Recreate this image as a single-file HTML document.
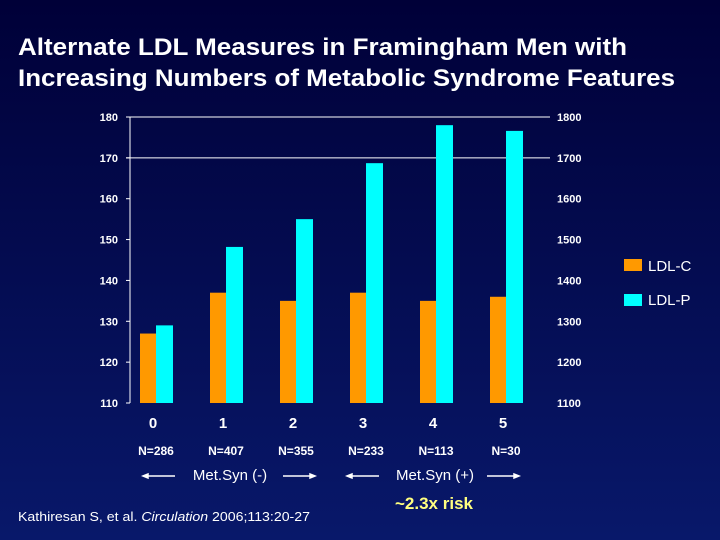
<!DOCTYPE html>
<html><head><meta charset="utf-8"><style>
body{margin:0;width:720px;height:540px;overflow:hidden;background:linear-gradient(#000038,#08186a);font-family:"Liberation Sans",sans-serif;}
svg{position:absolute;left:0;top:0}
</style></head><body>
<svg id="c" width="720" height="540">
<text x="18" y="55" fill="#fff" font-size="24" font-weight="bold" textLength="609" lengthAdjust="spacingAndGlyphs">Alternate LDL Measures in Framingham Men with</text>
<text x="18" y="86" fill="#fff" font-size="24" font-weight="bold" textLength="657" lengthAdjust="spacingAndGlyphs">Increasing Numbers of Metabolic Syndrome Features</text>
<rect x="624" y="259" width="18" height="12" fill="#ff9900"/>
<text x="648" y="271" fill="#fff" font-size="15">LDL-C</text>
<rect x="624" y="294" width="18" height="12" fill="#00ffff"/>
<text x="648" y="305" fill="#fff" font-size="15">LDL-P</text>
<g font-size="15" fill="#fff" text-anchor="middle">
<text x="230" y="480">Met.Syn (-)</text>
<text x="435" y="480">Met.Syn (+)</text>
<text x="434" y="509" fill="#ffff80" font-size="17" font-weight="bold">~2.3x risk</text>
</g>
<g stroke="#fff" stroke-width="1.5" fill="#fff">
<line x1="145" y1="476" x2="175" y2="476"/><polygon points="143,476 148,474 148,478"/>
<line x1="283" y1="476" x2="313" y2="476"/><polygon points="315,476 310,474 310,478"/>
<line x1="349" y1="476" x2="379" y2="476"/><polygon points="347,476 352,474 352,478"/>
<line x1="487" y1="476" x2="517" y2="476"/><polygon points="519,476 514,474 514,478"/>
</g>
<text x="18" y="521" fill="#fff" font-size="13" textLength="292" lengthAdjust="spacingAndGlyphs">Kathiresan S, et al. <tspan font-style="italic">Circulation</tspan> 2006;113:20-27</text>
</svg>
<script>
const categories=["0","1","2","3","4","5"];
const nLabels=["N=286","N=407","N=355","N=233","N=113","N=30"];
const ldlC=[127,137,135,137,135,136];
const ldlP=[1290,1482,1550,1687,1780,1766];
const leftTicks=[110,120,130,140,150,160,170,180];
const rightTicks=[1100,1200,1300,1400,1500,1600,1700,1800];
const gridTicks=[170,180];
const NS="http://www.w3.org/2000/svg";
const svg=document.getElementById('c');
const top_=117,bot=403,L=130,R=550;
const yL=v=>bot-(v-110)/70*(bot-top_);
const yR=v=>bot-(v-1100)/700*(bot-top_);
const gx=i=>L+(R-L)/categories.length*(i+0.5)-9;
function mk(t,a){const e=document.createElementNS(NS,t);for(const k in a)e.setAttribute(k,a[k]);svg.appendChild(e);return e;}
const ax=mk('line',{x1:L,y1:top_,x2:L,y2:bot,stroke:'#fff','stroke-width':1});


gridTicks.forEach(v=>{const g=mk('line',{x1:126,y1:yL(v),x2:R,y2:yL(v),stroke:'#fff','stroke-width':1});

});
leftTicks.forEach(v=>{const t=mk('text',{x:118,y:yL(v)+4,fill:'#fff','font-size':11,'font-weight':'bold','text-anchor':'end'});t.textContent=v;


const k=mk('line',{x1:126,y1:yL(v),x2:L,y2:yL(v),stroke:'#fff'});

});
rightTicks.forEach(v=>{const t=mk('text',{x:557,y:yR(v)+4,fill:'#fff','font-size':11,'font-weight':'bold'});t.textContent=v;

});
categories.forEach((c,i)=>{const x=gx(i);
const b1=mk('rect',{x:x-16,y:yL(ldlC[i]),width:16,height:bot-yL(ldlC[i]),fill:'#ff9900'});


const b2=mk('rect',{x:x,y:yR(ldlP[i]),width:17,height:bot-yR(ldlP[i]),fill:'#00ffff'});


const t=mk('text',{x:x-3,y:428,fill:'#fff','font-size':15,'font-weight':'bold','text-anchor':'middle'});t.textContent=c;


const n=mk('text',{x:x,y:455,fill:'#fff','font-size':12,'font-weight':'bold','text-anchor':'middle'});n.textContent=nLabels[i];

});
</script>
</body></html>
